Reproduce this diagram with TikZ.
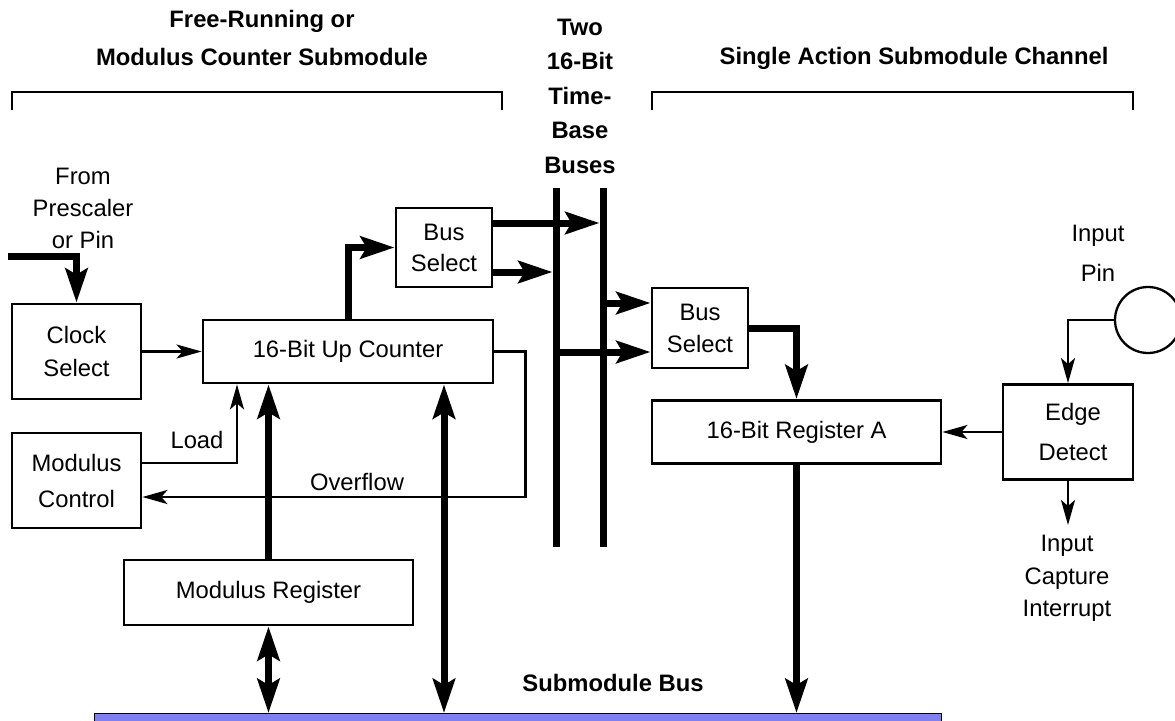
\documentclass[tikz,border=0pt]{standalone}
\usepackage{fontspec}
\setmainfont{Liberation Sans}
\usetikzlibrary{arrows.meta,calc}
\definecolor{busblue}{RGB}{128,128,240}
\begin{document}
\begin{tikzpicture}[x=1pt,y=-1pt,
  font=\fontsize{23.8}{34}\selectfont,
  box/.style={draw, line width=2.8pt, inner sep=0pt, align=center},
  lbl/.style={inner sep=0pt, align=center},
  blbl/.style={inner sep=0pt, align=center, font=\fontsize{23.8}{34}\selectfont\bfseries},
  sigarrow/.style={line width=2.3pt, -{Stealth[length=25pt,width=14pt,inset=6pt]}},
  busarrow/.style={line width=7pt, -{Stealth[length=34pt,width=22pt,inset=6pt]}},
  busdbl/.style={line width=7pt, {Stealth[length=34pt,width=22pt,inset=6pt]}-{Stealth[length=34pt,width=22pt,inset=6pt]}},
  busline/.style={line width=7pt},
  bracket/.style={line width=2.4pt}
]
\useasboundingbox (0,0) rectangle (1175,720);

% headings
\node[blbl] (hleft) at (262,38) {Free-Running or\\[4pt]Modulus Counter Submodule};
\node[blbl] (hmid) at (580,96) {Two\\[0.5pt]16-Bit\\[0.5pt]Time-\\[0.5pt]Base\\[0.5pt]Buses};
\node[blbl] (hright) at (914,58) {Single Action Submodule Channel};
\draw[bracket] (12,110) -- (12,92) -- (502,92) -- (502,110);
\draw[bracket] (652,110) -- (652,92) -- (1133,92) -- (1133,110);

% time-base buses
\coordinate (b1top) at (556,188);
\coordinate (b1bot) at (556,547);
\coordinate (b2top) at (603,188);
\coordinate (b2bot) at (603,547);
\draw[busline] (b1top) -- (b1bot);
\draw[busline] (b2top) -- (b2bot);

% boxes
\node[box, minimum width=129pt, minimum height=95pt] (clk) at (76.5,351.5) {Clock\\[-1pt]Select};
\node[box, minimum width=129pt, minimum height=95pt] (mctl) at (76.5,480.5) {Modulus\\[2pt]Control};
\node[box, minimum width=290pt, minimum height=63pt] (cnt) at (348,351.5) {16-Bit Up Counter};
\node[box, minimum width=96pt, minimum height=79pt] (bsl) at (444,247.5) {Bus\\[-3pt]Select};
\node[box, minimum width=96pt, minimum height=80pt] (bsr) at (700,328) {Bus\\[-2pt]Select};
\node[box, minimum width=289pt, minimum height=63pt] (rega) at (796.5,432) {16-Bit Register A};
\node[box, minimum width=130pt, minimum height=95pt] (edge) at (1068,432) {\hspace*{10pt}Edge\\[6pt]\hspace*{10pt}Detect};
\node[box, minimum width=289pt, minimum height=65pt] (mreg) at (268.5,592.5) {Modulus Register};
\node[draw, circle, line width=2.3pt, minimum size=66pt, inner sep=0pt] (pin) at (1148,320) {};
\node[draw, fill=busblue, line width=1.2pt, minimum width=847pt, minimum height=30pt, inner sep=0pt, anchor=north west] (sbus) at (94,713) {};

% text labels
\node[lbl] (from) at (83,208.5) {From\\[-2pt]Prescaler\\[-2pt]or Pin};
\node[lbl] (pinlbl) at (1098,253.5) {Input\\[6pt]Pin};
\node[lbl] (icap) at (1067,578.5) {Input\\[-1.5pt]Capture\\[-1.5pt]Interrupt};
\node[lbl] (load) at (197,440) {Load};
\node[lbl] (ovf) at (357,482) {Overflow};
\node[blbl] (sbl) at (613,683) {Submodule Bus};

% connectors
\coordinate (pre) at (8,256);
\draw[busarrow] (pre) -| (clk.north);
\draw[sigarrow] (clk.east) -- (cnt.west);
\draw[busarrow] (cnt.north) |- (bsl.west);
\draw[busarrow] ($(bsl.east)+(0,-24.5)$) -- ($(b2top |- bsl.east)+(-3.5,-24.5)$);
\draw[busarrow] ($(bsl.east)+(0,24.5)$) -- ($(b1top |- bsl.east)+(-3.5,24.5)$);
\draw[busarrow] ($(b2top |- bsr.west)+(0,-25)$) -- ($(bsr.west)+(0,-25)$);
\draw[busarrow] ($(b1top |- bsr.west)+(0,24)$) -- ($(bsr.west)+(0,24)$);
\draw[busarrow] (bsr.east) -| (rega.north);
\draw[sigarrow] (edge.west) -- (rega.east);
\draw[sigarrow] (pin.west) -| (edge.north);
\coordinate (icapend) at (1068,525);
\draw[sigarrow] (edge.south) -- (icapend);
\draw[busarrow] (rega.south) -- (rega.south |- sbus.north);
\draw[sigarrow] ($(mctl.east)+(0,-17.5)$) -| ($(cnt.south)+(-111,0)$);
\draw[sigarrow, line join=miter] (cnt.east) -- ++(31,0) |- ($(mctl.east)+(0,16.5)$);
\draw[busarrow] (mreg.north) -- (mreg.north |- cnt.south);
\draw[busdbl] (mreg.south) -- (mreg.south |- sbus.north);
\draw[busdbl] ($(cnt.south)+(96,0)$) -- ($(cnt.south |- sbus.north)+(96,0)$);
\end{tikzpicture}
\end{document}
